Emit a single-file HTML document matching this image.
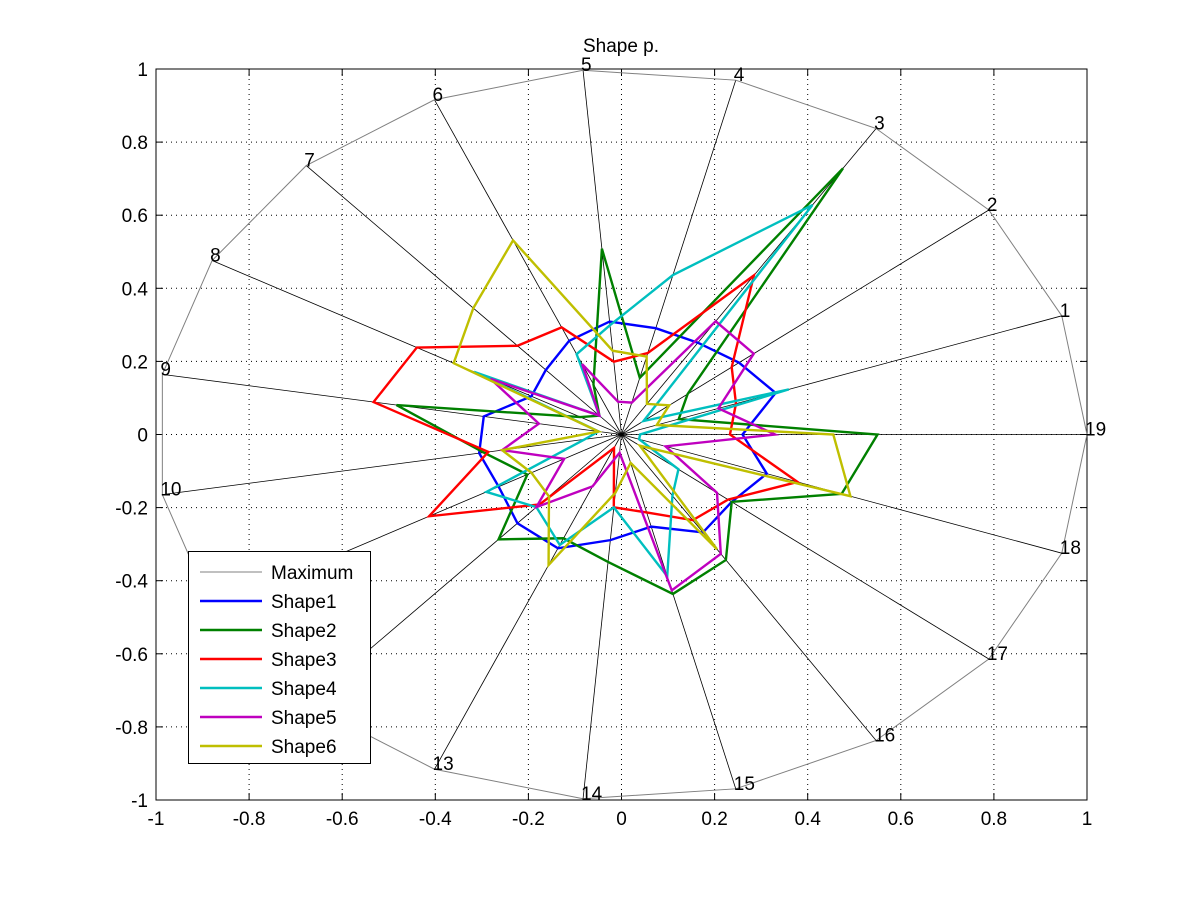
<!DOCTYPE html>
<html><head><meta charset="utf-8"><style>
html,body{margin:0;padding:0;background:#fff;}
svg{display:block;font-family:"Liberation Sans",sans-serif;}
</style></head><body>
<svg id="s" width="1201" height="901" xmlns="http://www.w3.org/2000/svg"></svg>
<script>
const s=document.getElementById('s');
const cx=621.5,cy=434.5,sx=465.5,sy=365.5;
let h='<rect width="1201" height="901" fill="#fff"/>';
const X0=156,X1=1087,Y0=69,Y1=800;
for(let i=0;i<=10;i++){
  const v=-1+i*0.2;
  const x=cx+v*sx, y=cy-v*sy;
  if(i>0&&i<10){
    h+=`<line x1="${x}" y1="${Y0}" x2="${x}" y2="${Y1}" stroke="#000" stroke-width="1" stroke-dasharray="1,4"/>`;
    h+=`<line x1="${X0}" y1="${y}" x2="${X1}" y2="${y}" stroke="#000" stroke-width="1" stroke-dasharray="1,4"/>`;
  }
  const lab=(Math.abs(v)<1e-9?'0':(Math.round(v*10)/10).toString());
  h+=`<text x="${x}" y="825" font-size="19" text-anchor="middle">${lab}</text>`;
  h+=`<text x="148" y="${y+7}" font-size="19" text-anchor="end">${lab}</text>`;
  h+=`<line x1="${x}" y1="${Y1}" x2="${x}" y2="${Y1-7}" stroke="#000"/><line x1="${x}" y1="${Y0}" x2="${x}" y2="${Y0+7}" stroke="#000"/>`;
  h+=`<line x1="${X0}" y1="${y}" x2="${X0+7}" y2="${y}" stroke="#000"/><line x1="${X1}" y1="${y}" x2="${X1-7}" y2="${y}" stroke="#000"/>`;
}
h+=`<rect x="${X0}" y="${Y0}" width="${X1-X0}" height="${Y1-Y0}" fill="none" stroke="#000"/>`;
h+=`<text x="621" y="52" font-size="19" text-anchor="middle">Shape p.</text>`;
function pt(k,r){const a=k*2*Math.PI/19;return [cx+sx*r*Math.cos(a),cy-sy*r*Math.sin(a)];}
let mp=[];
for(let k=1;k<=19;k++){const p=pt(k,1);mp.push(p);
  h+=`<line x1="${cx}" y1="${cy}" x2="${p[0]}" y2="${p[1]}" stroke="#000" stroke-width="0.8"/>`;}
h+=`<polygon points="${mp.map(p=>p.join(',')).join(' ')}" fill="none" stroke="#808080" stroke-width="1"/>`;
for(let k=1;k<=19;k++){const p=pt(k,1);
  h+=`<text x="${p[0]-2}" y="${p[1]+1}" font-size="19">${k}</text>`;}
const shapes=[
 ['#0000ff',[0.35,0.32,0.3,0.3,0.31,0.28,0.24,0.22,0.3,0.31,0.3,0.33,0.34,0.29,0.26,0.32,0.3,0.33,0.26]],
 ['#008000',[0.13,0.18,0.87,0.16,0.51,0.15,0.07,0.1,0.49,0.3,0.23,0.39,0.31,0.35,0.45,0.41,0.3,0.5,0.55]],
 ['#ff0000',[0.26,0.3,0.52,0.23,0.2,0.32,0.33,0.5,0.54,0.29,0.47,0.26,0.04,0.2,0.22,0.28,0.29,0.4,0.233]],
 ['#00bfbf',[0.38,0.06,0.75,0.45,0.3,0.24,0.07,0.36,0.05,0.08,0.33,0.27,0.33,0.2,0.4,0.2,0.155,0.04,0.04]],
 ['#bf00bf',[0.22,0.36,0.37,0.09,0.09,0.21,0.07,0.32,0.18,0.26,0.14,0.27,0.155,0.05,0.44,0.39,0.26,0.1,0.33]],
 ['#bfbf00',[0.08,0.13,0.1,0.22,0.23,0.58,0.47,0.41,0.05,0.26,0.22,0.23,0.39,0.16,0.08,0.375,0.05,0.52,0.455]]
];
for(const [c,r] of shapes){
  const pts=r.map((v,i)=>pt(i+1,v).join(',')).join(' ');
  h+=`<polygon points="${pts}" fill="none" stroke="${c}" stroke-width="2.4" stroke-linejoin="miter"/>`;
}
h+=`<rect x="188.5" y="551.5" width="182" height="212" fill="#fff" stroke="#000"/>`;
const names=['Maximum','Shape1','Shape2','Shape3','Shape4','Shape5','Shape6'];
const cols=['#808080','#0000ff','#008000','#ff0000','#00bfbf','#bf00bf','#bfbf00'];
for(let i=0;i<7;i++){const y=572+i*29;
  h+=`<line x1="200" y1="${y}" x2="262" y2="${y}" stroke="${cols[i]}" stroke-width="${i?2.4:1}"/>`;
  h+=`<text x="271" y="${y+7}" font-size="19">${names[i]}</text>`;}
s.innerHTML=h;
</script>
</body></html>
